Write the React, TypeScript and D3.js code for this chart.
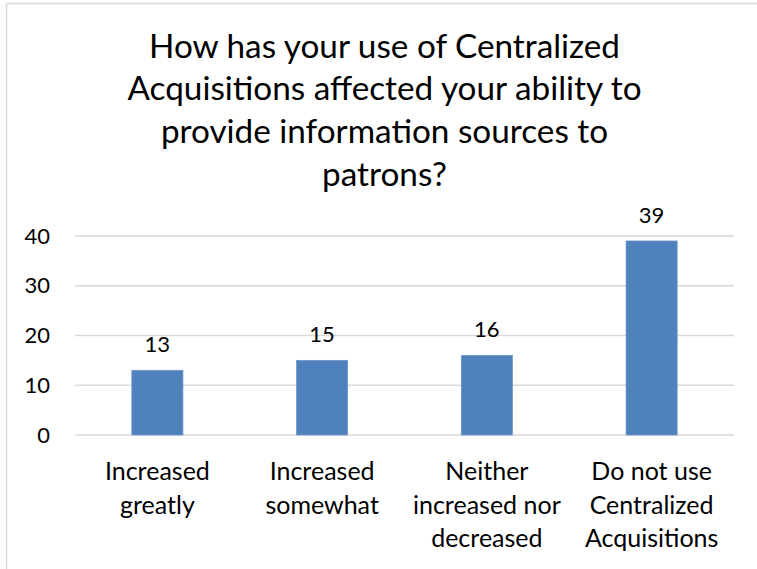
import React from "react";
import * as d3 from "d3";

const categories = [
  "Increased greatly",
  "Increased somewhat",
  "Neither increased nor decreased",
  "Do not use Centralized Acquisitions",
];
const categoryLines = [
  ["Increased", "greatly"],
  ["Increased", "somewhat"],
  ["Neither", "increased nor", "decreased"],
  ["Do not use", "Centralized", "Acquisitions"],
];
const values = [13, 15, 16, 39];
const yTicks = [0, 10, 20, 30, 40];
const titleLines = [
  "How has your use of Centralized",
  "Acquisitions affected your ability to",
  "provide information sources to",
  "patrons?",
];

const W = 757;
const H = 569;
const FONT = "Lato, 'Open Sans', sans-serif";

export default function App() {
  const x = d3
    .scaleBand<string>()
    .domain(categories)
    .range([75, 734])
    .paddingInner(0.69)
    .paddingOuter(0.345);
  const y = d3.scaleLinear().domain([0, 40]).range([435, 236]);

  return (
    <svg
      width={W}
      height={H}
      style={{ position: "absolute", left: 0, top: 0, background: "#fff" }}
      fontFamily={FONT}
    >
      <rect x={0} y={0} width={W} height={H} fill="#fff" />
      {/* frame */}
      <line x1={6.5} y1={3.5} x2={W} y2={3.5} stroke="#d9d9d9" strokeWidth={1.5} />
      <line x1={6.5} y1={3.5} x2={6.5} y2={H} stroke="#d9d9d9" strokeWidth={1.5} />

      {/* title */}
      {titleLines.map((t, i) => (
        <text
          key={i}
          x={384.5}
          y={57.5 + i * 42.7}
          textAnchor="middle"
          fontSize={33.3}
          fill="#000"
        >
          {t}
        </text>
      ))}

      {/* gridlines */}
      {yTicks.map((t) => (
        <line
          key={t}
          x1={75}
          x2={734}
          y1={y(t)}
          y2={y(t)}
          stroke="#d9d9d9"
          strokeWidth={1.6}
        />
      ))}
      {/* y tick labels */}
      {yTicks.map((t) => (
        <text
          key={"l" + t}
          x={50}
          y={y(t)}
          dy="0.35em"
          textAnchor="end"
          fontSize={22}
          fill="#000"
        >
          {t}
        </text>
      ))}

      {/* bars */}
      {categories.map((c, i) => (
        <rect
          key={c}
          x={x(c)}
          y={y(values[i])}
          width={x.bandwidth()}
          height={y(0) - y(values[i])}
          fill="#4f81bd"
          stroke="#6f96c8"
          strokeWidth={0.8}
        />
      ))}
      {/* data labels */}
      {categories.map((c, i) => (
        <text
          key={"d" + c}
          x={(x(c) as number) + x.bandwidth() / 2}
          y={y(values[i]) - 18}
          textAnchor="middle"
          fontSize={22}
          fill="#000"
        >
          {values[i]}
        </text>
      ))}

      {/* category labels */}
      {categories.map((c, i) => (
        <text
          key={"c" + c}
          textAnchor="middle"
          fontSize={25}
          fill="#000"
        >
          {categoryLines[i].map((ln, j) => (
            <tspan
              key={j}
              x={(x(c) as number) + x.bandwidth() / 2}
              y={480 + j * 33.5}
            >
              {ln}
            </tspan>
          ))}
        </text>
      ))}
    </svg>
  );
}
